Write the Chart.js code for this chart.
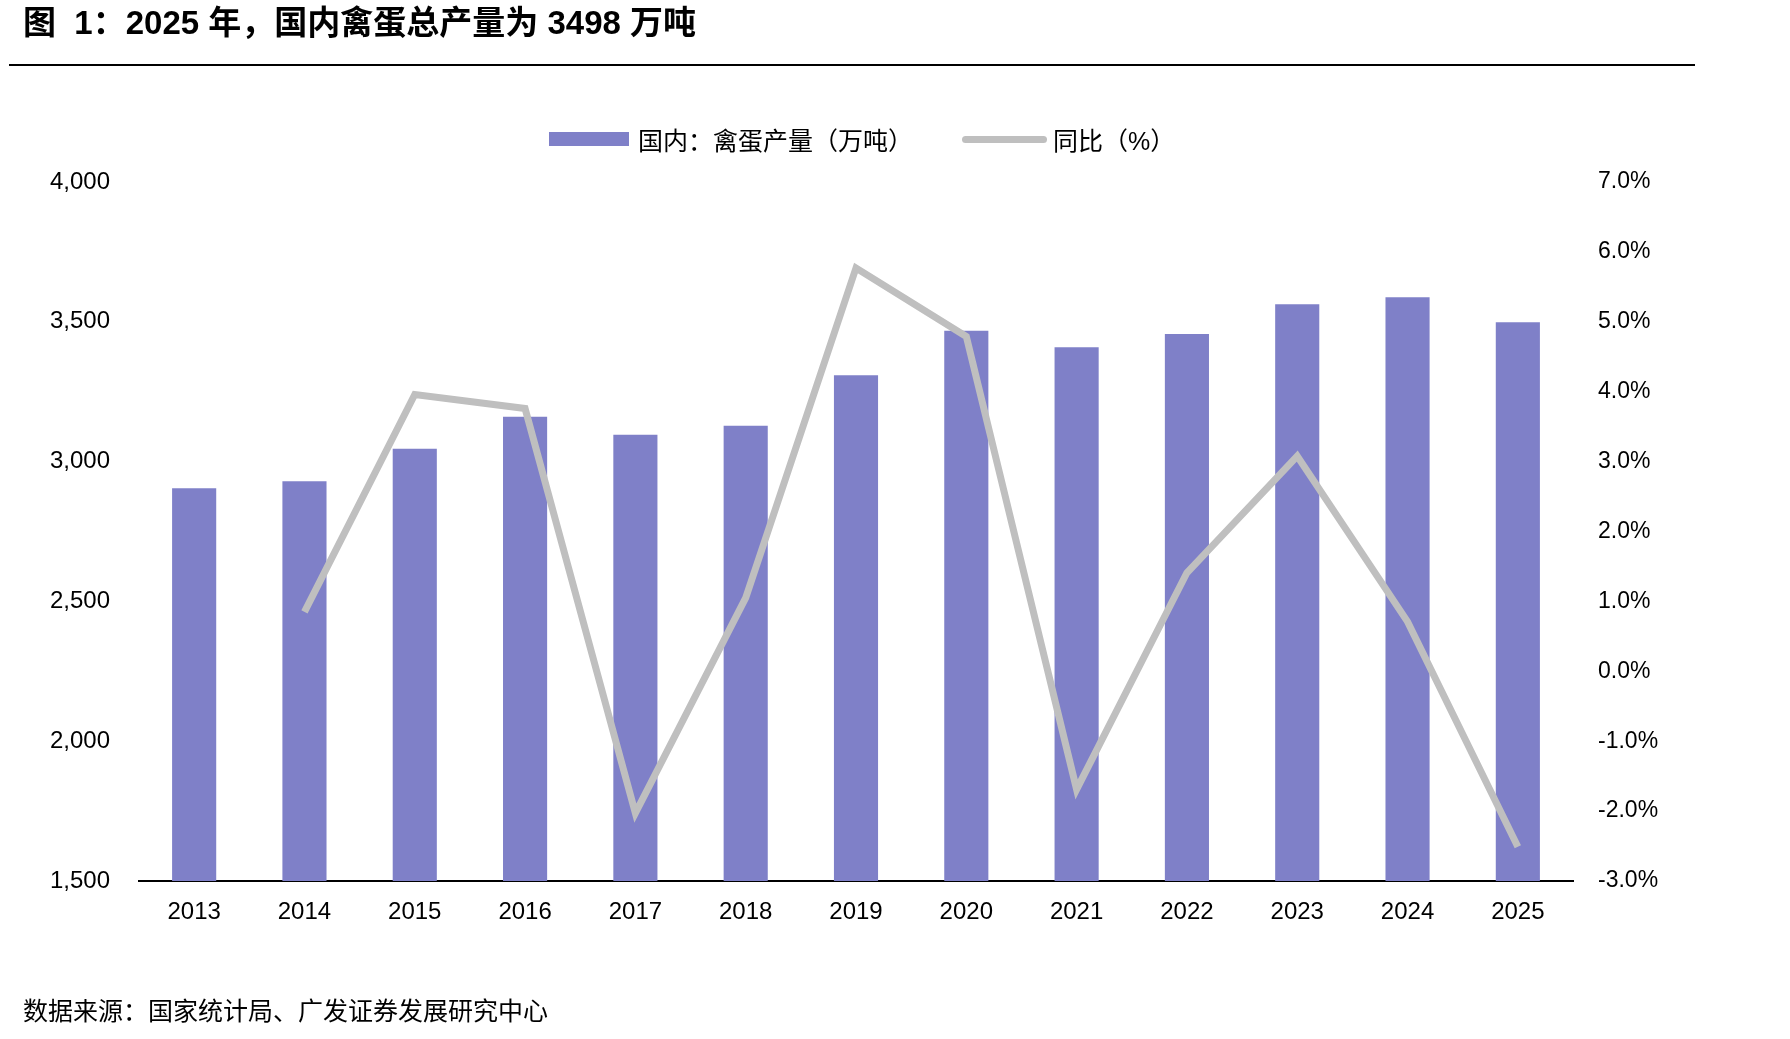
<!DOCTYPE html>
<html>
<head>
<meta charset="utf-8">
<script src="https://cdn.jsdelivr.net/npm/chart.js@4.4.1/dist/chart.umd.min.js"></script>
<style>
body { margin: 0; background: #fff; font-family: "Liberation Sans", "Noto Sans CJK SC", sans-serif; }
#wrap { position: relative; width: 1790px; height: 1039px; overflow: hidden; }
#chart { position: absolute; left: 0; top: 0; }
.title { position: absolute; left: 23px; top: 3px; font-size: 33px; font-weight: bold; color: #000; line-height: 40px; white-space: nowrap; }
.rule { position: absolute; left: 9px; top: 64px; width: 1686px; height: 2px; background: #000; }
.legend { position: absolute; top: 124px; left: 549px; height: 30px; display: flex; align-items: center; font-size: 25px; color: #000; white-space: nowrap; }
.legend .bar { width: 80px; height: 14px; background: #7F80C8; margin-right: 9px; }
.legend .line { width: 85px; height: 7px; border-radius: 4px; background: #BFBFBF; margin-left: 49px; margin-right: 6px; }
.source { position: absolute; left: 23px; top: 991px; font-size: 25px; color: #000; white-space: nowrap; }
</style>
</head>
<body>
<div id="wrap">
  <canvas id="chart" width="1790" height="1039"></canvas>
  <div class="title">图&nbsp;&nbsp;1：2025 年，国内禽蛋总产量为 3498 万吨</div>
  <div class="rule"></div>
  <div class="legend">
    <span class="bar"></span><span>国内：禽蛋产量（万吨）</span>
    <span class="line"></span><span>同比（%）</span>
  </div>
  <div class="source">数据来源：国家统计局、广发证券发展研究中心</div>
</div>
<script>
// data
const years = ['2013', '2014', '2015', '2016', '2017', '2018', '2019', '2020', '2021', '2022', '2023', '2024', '2025'];
const eggOutput = [2905, 2930, 3046, 3160, 3096, 3128, 3309, 3468, 3409, 3456, 3563, 3588, 3498];
const yoyPct = [null, 0.85, 3.96, 3.76, -2.03, 1.05, 5.77, 4.79, -1.69, 1.41, 3.08, 0.71, -2.51];
const leftTicks = [1500, 2000, 2500, 3000, 3500, 4000];
const rightTicks = [-3, -2, -1, 0, 1, 2, 3, 4, 5, 6, 7];

const tickFont = { family: '"Liberation Sans", Arial, sans-serif', size: 24 };

const ctx = document.getElementById('chart').getContext('2d');
new Chart(ctx, {
type: 'bar',
data: {
labels: years,
datasets: [
    {
    type: 'line',
    label: '同比（%）',
    data: yoyPct,
    yAxisID: 'y1',
    borderColor: '#BFBFBF',
    borderWidth: 7,
    pointRadius: 0,
    tension: 0,
    order: 0
    },
    {
    label: '国内：禽蛋产量（万吨）',
    data: eggOutput,
    yAxisID: 'y',
    backgroundColor: '#7F80C8',
    categoryPercentage: 1,
    barPercentage: 0.4,
    order: 1
    }
]
},
options: {
responsive: false,
animation: false,
layout: { padding: { top: 182, left: 0, right: 0, bottom: 0 } },
plugins: {
    legend: { display: false },
    tooltip: { enabled: false }
},
scales: {
    x: {
    grid: { display: false, drawTicks: false },
    border: { display: true, color: '#000', width: 2 },
    ticks: { color: '#000', font: tickFont, padding: 17, maxRotation: 0 },
    afterFit: s => { s.height = 158; }
    },
    y: {
    position: 'left',
    min: leftTicks[0],
    max: leftTicks[leftTicks.length - 1],
    grid: { display: false, drawTicks: false },
    border: { display: false },
    afterBuildTicks: s => { s.ticks = leftTicks.map(v => ({ value: v })); },
    ticks: {
        color: '#000',
        font: tickFont,
        padding: 29,
        callback: v => v.toLocaleString('en-US')
    },
    afterFit: s => { s.width = 139; }
    },
    y1: {
    position: 'right',
    min: rightTicks[0],
    max: rightTicks[rightTicks.length - 1],
    grid: { display: false, drawTicks: false },
    border: { display: false },
    afterBuildTicks: s => { s.ticks = rightTicks.map(v => ({ value: v })); },
    ticks: {
        color: '#000',
        font: { family: tickFont.family, size: 23 },
        padding: 25,
        callback: v => v.toFixed(1) + '%'
    },
    afterFit: s => { s.width = 217; }
    }
}
}
});
</script>
</body>
</html>
